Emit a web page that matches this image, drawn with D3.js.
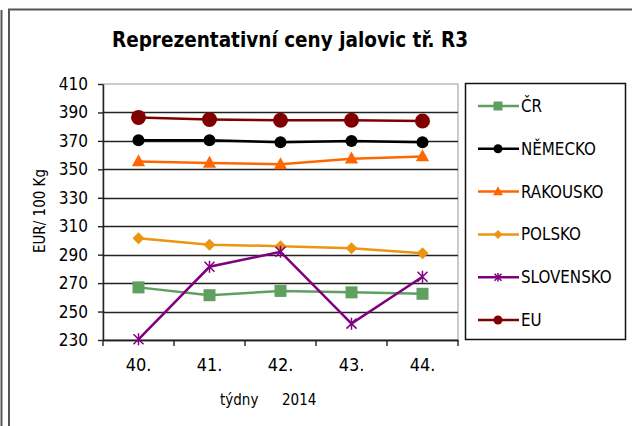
<!DOCTYPE html>
<html>
<head>
<meta charset="utf-8">
<script src="https://cdn.jsdelivr.net/npm/d3@7"></script>
<style>
  body { margin: 0; background: #fff; }
  svg { display: block; font-family: "DejaVu Sans Condensed", "DejaVu Sans", Verdana, sans-serif; }
</style>
</head>
<body>
<div id="chart"></div>
<script>
// data
const weeks = ["40.", "41.", "42.", "43.", "44."];
const yTicks = [230, 250, 270, 290, 310, 330, 350, 370, 390, 410];
const cr = [267, 261.5, 264.5, 263.5, 262.5];
const nemecko = [370.5, 370.5, 369, 370, 369];
const rakousko = [355.5, 354.5, 353.5, 357.5, 359];
const polsko = [301.5, 297, 296, 294.5, 291];
const slovensko = [230.5, 281.5, 292, 241.5, 274.5];
const eu = [386.5, 385, 384.5, 384.5, 384];

const series = [
    { name: "ČR", values: cr, color: "#5f9f5f", marker: "square" },
    { name: "NĚMECKO", values: nemecko, color: "#000000", marker: "circle" },
    { name: "RAKOUSKO", values: rakousko, color: "#ff6600", marker: "triangle" },
    { name: "POLSKO", values: polsko, color: "#eb9510", marker: "diamond" },
    { name: "SLOVENSKO", values: slovensko, color: "#800080", marker: "star" },
    { name: "EU", values: eu, color: "#800000", marker: "bigcircle" }
];

const width = 632, height = 426;
const margin = { top: 84, left: 103, right: 174, bottom: 86 };
const innerW = width - margin.left - margin.right;   // 355
const innerH = height - margin.top - margin.bottom;  // 256
const font = "'DejaVu Sans Condensed', 'DejaVu Sans', Verdana, sans-serif";

const svg = d3.select("#chart").append("svg")
    .attr("width", width).attr("height", height);

// outer frames
svg.append("line").attr("x1", 1.5).attr("x2", 1.5).attr("y1", 10).attr("y2", height)
    .attr("stroke", "#555").attr("stroke-width", 2);
svg.append("path").attr("d", `M9,${height} V9.5 H${width}`)
    .attr("fill", "none").attr("stroke", "#555").attr("stroke-width", 2);

// title
svg.append("text")
    .attr("x", 290).attr("y", 47)
    .attr("text-anchor", "middle")
    .style("font-size", "20.5px").style("font-weight", "bold").style("fill", "#000")
    .text("Reprezentativní ceny jalovic tř. R3");

const g = svg.append("g").attr("transform", `translate(${margin.left},${margin.top})`);

const x = d3.scaleBand().domain(weeks).range([0, innerW]);
const y = d3.scaleLinear().domain([230, 410]).range([innerH, 0]);
const cx = d => x(d) + x.bandwidth() / 2;

// plot border + gridlines
g.append("rect").attr("width", innerW).attr("height", innerH)
    .attr("fill", "none").attr("stroke", "#999").attr("stroke-width", 1);
g.selectAll(".grid").data(yTicks.filter(v => v !== 410)).enter().append("line")
    .attr("x1", 0).attr("x2", innerW)
    .attr("y1", d => Math.round(y(d)) + 0.5).attr("y2", d => Math.round(y(d)) + 0.5)
    .attr("stroke", "#222").attr("stroke-width", 1.4);

// y axis
const yAxis = g.append("g")
    .call(d3.axisLeft(y).tickValues(yTicks).tickSize(5).tickSizeOuter(0).tickPadding(10));
yAxis.select(".domain").attr("stroke", "#222").attr("stroke-width", 1.5);
yAxis.selectAll(".tick line").attr("stroke", "#222").attr("stroke-width", 1.4);
yAxis.selectAll("text").style("font-size", "17px").style("fill", "#000")
    .style("font-family", font);

// x axis with ticks at band boundaries
const xAxis = g.append("g").attr("transform", `translate(0,${innerH})`)
    .call(d3.axisBottom(x).tickSize(0).tickPadding(18));
xAxis.select(".domain").attr("stroke", "#222").attr("stroke-width", 1.5);
xAxis.selectAll("text").style("font-size", "18px").style("fill", "#000")
    .style("font-family", font);
const bounds = weeks.map(w => x(w)).concat([innerW]);
g.selectAll(".xtick").data(bounds).enter().append("line")
    .attr("x1", d => d).attr("x2", d => d)
    .attr("y1", innerH).attr("y2", innerH + 6)
    .attr("stroke", "#222").attr("stroke-width", 1.4);

// axis titles
svg.append("text")
    .attr("transform", `translate(45,211) rotate(-90)`)
    .attr("text-anchor", "middle")
    .style("font-size", "15px").style("fill", "#000")
    .text("EUR/ 100 Kg");
svg.append("text")
    .attr("x", 220).attr("y", 405)
    .style("font-size", "15px").style("fill", "#000")
    .text("týdny");
svg.append("text")
    .attr("x", 282).attr("y", 405)
    .style("font-size", "15px").style("fill", "#000")
    .text("2014");

// marker drawing
function drawMarker(sel, type, color, size) {
    if (type === "square") {
        sel.append("rect").attr("x", -size).attr("y", -size)
            .attr("width", size * 2).attr("height", size * 2).attr("fill", color);
    } else if (type === "circle" || type === "bigcircle") {
        sel.append("circle").attr("r", size).attr("fill", color);
    } else if (type === "triangle") {
        sel.append("path").attr("d", `M0,${-size * 1.2} L${size * 1.1},${size * 0.8} L${-size * 1.1},${size * 0.8} Z`)
            .attr("fill", color);
    } else if (type === "diamond") {
        sel.append("path").attr("d", `M0,${-size} L${size},0 L0,${size} L${-size},0 Z`)
            .attr("fill", color);
    } else if (type === "star") {
        const s = size;
        sel.append("path")
            .attr("d", `M${-s},${-s} L${s},${s} M${-s},${s} L${s},${-s} M0,${-s * 1.2} L0,${s * 1.2}`)
            .attr("stroke", color).attr("stroke-width", 1.5).attr("fill", "none");
    }
}
const markerSize = { square: 6, circle: 6, bigcircle: 7.5, triangle: 6, diamond: 6, star: 5 };

const line = d3.line().x((d, i) => cx(weeks[i])).y(d => y(d));

series.forEach(s => {
    g.append("path").datum(s.values)
        .attr("d", line)
        .attr("fill", "none").attr("stroke", s.color).attr("stroke-width", 2.5);
    s.values.forEach((v, i) => {
        const m = g.append("g").attr("transform", `translate(${cx(weeks[i])},${y(v)})`);
        drawMarker(m, s.marker, s.color, markerSize[s.marker]);
    });
});

// legend
const lg = svg.append("g");
lg.append("rect").attr("x", 465.5).attr("y", 83.5).attr("width", 160).attr("height", 256)
    .attr("fill", "#fff").attr("stroke", "#111").attr("stroke-width", 1.5);
const ly = d3.scalePoint().domain(series.map(s => s.name)).range([106, 320]);
series.forEach(s => {
    const row = lg.append("g").attr("transform", `translate(0,${ly(s.name)})`);
    row.append("line").attr("x1", 478).attr("x2", 519)
        .attr("stroke", s.color).attr("stroke-width", 2.5);
    const m = row.append("g").attr("transform", "translate(498,0)");
    drawMarker(m, s.marker, s.color, s.marker === "star" ? 3.5 : 4.5);
    row.append("text").attr("x", 521).attr("y", 6)
        .style("font-size", "16.8px").style("fill", "#000")
        .text(s.name);
});
</script>
</body>
</html>
